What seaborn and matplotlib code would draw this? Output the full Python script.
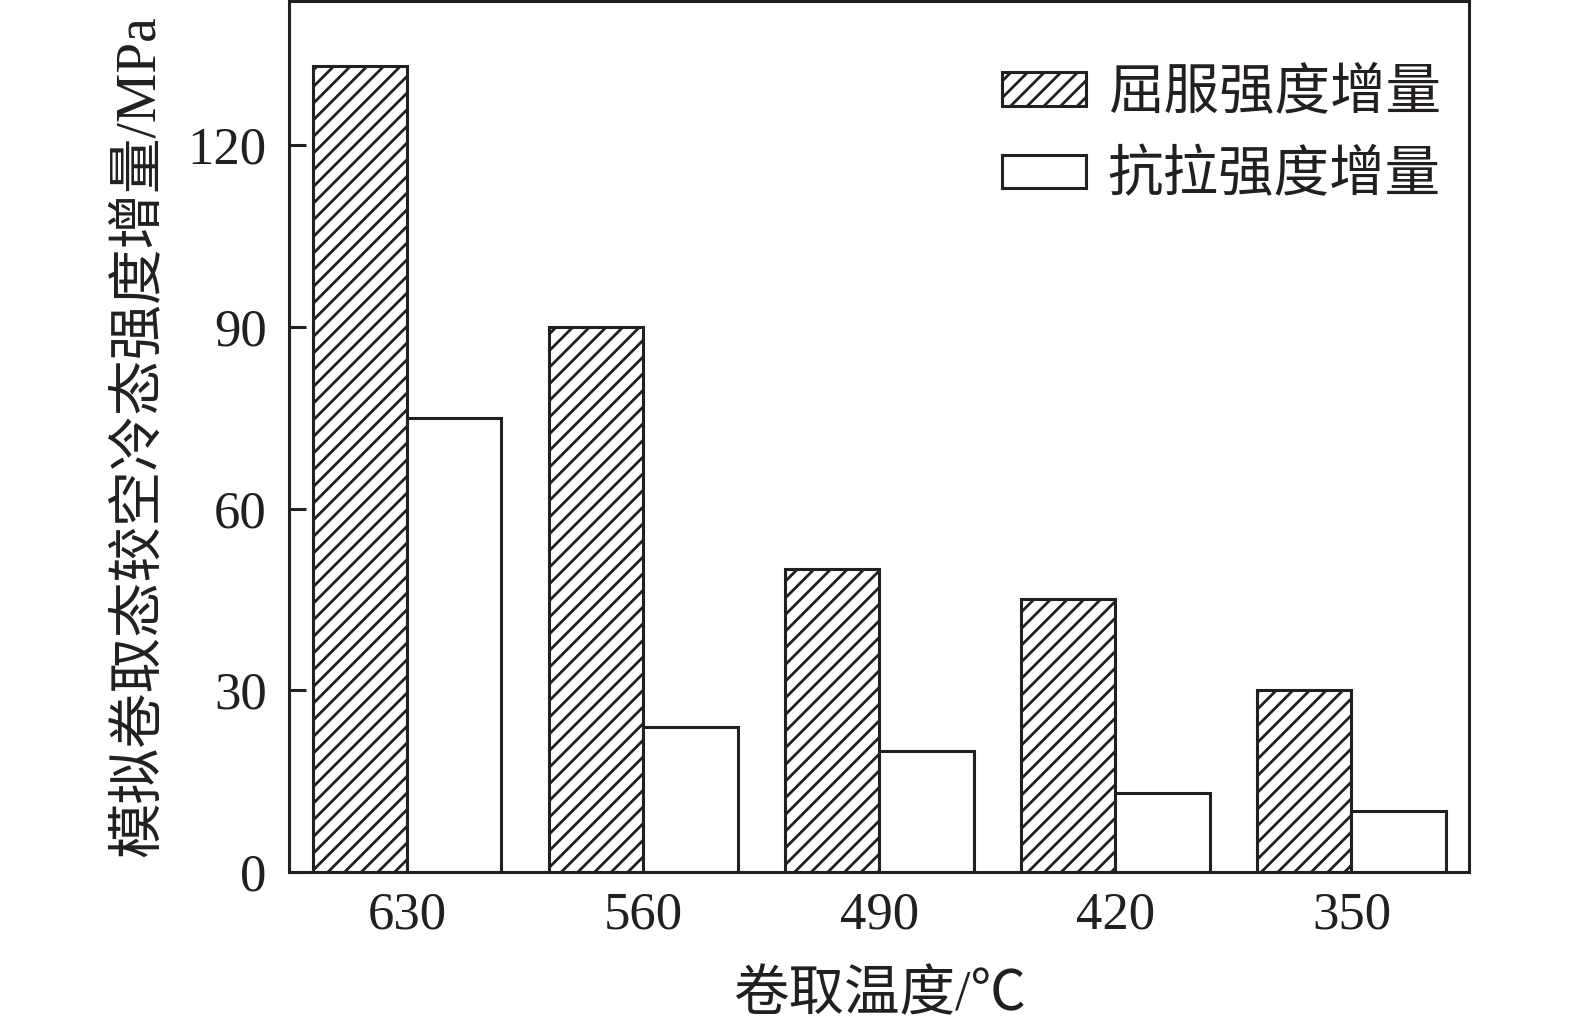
import seaborn as sns
import matplotlib.pyplot as plt
import pandas as pd

temps = ['630', '560', '490', '420', '350']
series = ['屈服强度增量', '抗拉强度增量']
yield_inc = [133, 90, 50, 45, 30]
tensile_inc = [75, 24, 20, 13, 10]
y_ticks = [0, 30, 60, 90, 120]

df = pd.DataFrame({
    'temp': temps * 2,
    'series': [series[0]] * len(temps) + [series[1]] * len(temps),
    'value': yield_inc + tensile_inc,
})

sns.set_style('ticks')
plt.rcParams['font.family'] = ['Liberation Serif', 'Noto Sans CJK SC']
plt.rcParams['hatch.linewidth'] = 2.0
plt.rcParams['hatch.color'] = '#231f20'
plt.rcParams['axes.unicode_minus'] = False

fig = plt.figure(figsize=(15.75, 10.32), dpi=100)
ax = fig.add_axes([0.1835, 0.155, 0.7495, 0.844])

sns.barplot(data=df, x='temp', y='value', hue='series', order=temps,
            hue_order=series, palette=['white', 'white'], edgecolor='#231f20',
            linewidth=2.2, saturation=1, width=0.8, legend=False, ax=ax)

# hatch the yield-strength bars
for patch in ax.containers[0]:
    patch.set_hatch('//')

ax.set_xlim(-0.5, 4.5)
ax.set_ylim(0, 143.8)
ax.set_yticks(y_ticks)
ax.set_yticklabels([str(t) for t in y_ticks])
ax.tick_params(axis='y', direction='in', length=12, width=2.2, pad=16,
               labelsize=38, colors='#231f20')
ax.tick_params(axis='x', length=0, pad=14, labelsize=38, colors='#231f20')
for sp in ax.spines.values():
    sp.set_visible(True)
    sp.set_linewidth(2.2)
    sp.set_color('#231f20')

ax.set_xlabel('卷取温度/℃', fontsize=40, color='#231f20', labelpad=22)
ax.set_ylabel('模拟卷取态较空冷态强度增量/MPa', fontsize=40, color='#231f20', labelpad=16)

ax.legend(ax.containers, series, loc='upper right', frameon=False,
          fontsize=40, handlelength=1.5, handleheight=0.55,
          handletextpad=0.4, labelspacing=0.55,
          bbox_to_anchor=(1.018, 0.98), labelcolor='#231f20')

fig.savefig('out.png', dpi=100)
plt.close()
